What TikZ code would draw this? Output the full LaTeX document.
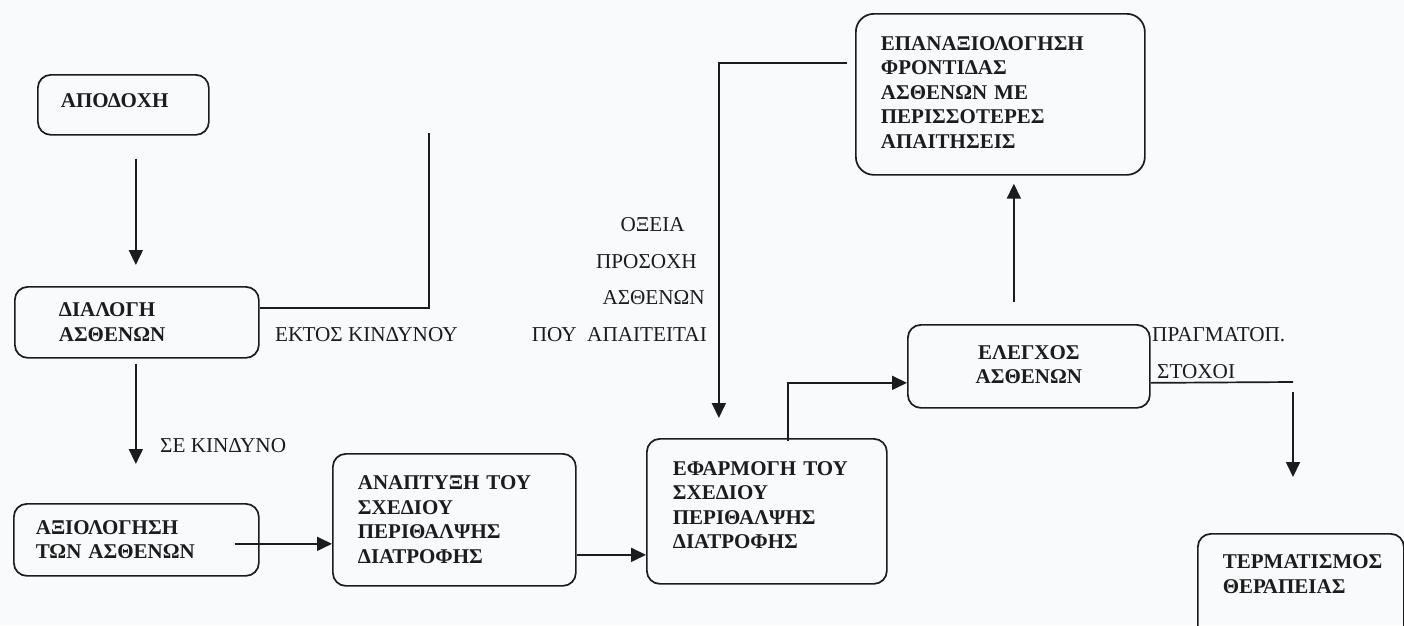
\documentclass[tikz,border=0pt]{standalone}
\usepackage{fontspec}
\setmainfont{Liberation Serif}
\usetikzlibrary{arrows.meta}
\definecolor{bg}{RGB}{248,250,251}
\definecolor{ink}{RGB}{28,28,28}
\begin{document}
\begin{tikzpicture}[x=1pt,y=-1pt,
  box/.style={draw=ink, line width=1.7pt, rounded corners=13pt, anchor=north west, align=left,
    font=\fontsize{21}{24.5}\selectfont\bfseries, text=ink, inner ysep=0pt},
  lbl/.style={font=\fontsize{21.2}{24}\selectfont, text=ink, inner sep=0pt},
  conn/.style={draw=ink, line width=1.7pt},
  arr/.style={conn, -{Triangle[length=15pt,width=14pt]}}]
\fill[bg] (0,0) rectangle (1404,625);
\path[use as bounding box] (0,0) rectangle (1404,625);

% boxes
\node[box, minimum width=171, minimum height=60, text width=125, inner xsep=23, text depth=8pt] (apod) at (37,74) {ΑΠΟΔΟΧΗ};
\node[box, minimum width=244, minimum height=71, text width=156, inner xsep=44] (dial) at (14,286) {ΔΙΑΛΟΓΗ\\ΑΣΘΕΝΩΝ};
\node[box, minimum width=245, minimum height=72, text width=201, inner xsep=22] (axiol) at (13,503) {ΑΞΙΟΛΟΓΗΣΗ\\ΤΩΝ ΑΣΘΕΝΩΝ};
\node[box, minimum width=243, minimum height=132, text width=193, inner xsep=25] (anap) at (332,453) {ΑΝΑΠΤΥΞΗ ΤΟΥ\\ΣΧΕΔΙΟΥ\\ΠΕΡΙΘΑΛΨΗΣ\\ΔΙΑΤΡΟΦΗΣ};
\node[box, minimum width=240, minimum height=145, text width=188, inner xsep=26] (efarm) at (646,438) {ΕΦΑΡΜΟΓΗ ΤΟΥ\\ΣΧΕΔΙΟΥ\\ΠΕΡΙΘΑΛΨΗΣ\\ΔΙΑΤΡΟΦΗΣ\rule[-13pt]{0pt}{1pt}};
\node[box, align=center, minimum width=242, minimum height=83, text width=200, inner xsep=21] (eleg) at (907,324) {ΕΛΕΓΧΟΣ\\ΑΣΘΕΝΩΝ\rule[-4pt]{0pt}{1pt}};
\node[box, rounded corners=18pt, minimum width=289, minimum height=161, text width=239, inner xsep=25] (epan) at (855,13) {ΕΠΑΝΑΞΙΟΛΟΓΗΣΗ\\ΦΡΟΝΤΙΔΑΣ\\ΑΣΘΕΝΩΝ ΜΕ\\ΠΕΡΙΣΣΟΤΕΡΕΣ\\ΑΠΑΙΤΗΣΕΙΣ\rule[-4pt]{0pt}{1pt}};
\node[box, minimum width=206, text width=156, inner xsep=25, inner ysep=21pt] (term) at (1197,533) {ΤΕΡΜΑΤΙΣΜΟΣ\\ΘΕΡΑΠΕΙΑΣ\\\rule{0pt}{60pt}};

% labels
\node[lbl, anchor=west] (ektos) at (275,335) {ΕΚΤΟΣ ΚΙΝΔΥΝΟΥ};
\node[lbl, anchor=west] (sek) at (160,446) {ΣΕ ΚΙΝΔΥΝΟ};
\node[lbl, anchor=east] (l1) at (685,225) {ΟΞΕΙΑ};
\node[lbl, anchor=east] (l2) at (697,262) {ΠΡΟΣΟΧΗ};
\node[lbl, anchor=east] (l3) at (705,298) {ΑΣΘΕΝΩΝ};
\node[lbl, anchor=east] (l4) at (707,335) {ΠΟΥ\ \ ΑΠΑΙΤΕΙΤΑΙ};
\node[lbl, anchor=west] (prag) at (1152,335) {ΠΡΑΓΜΑΤΟΠ.};
\node[lbl, anchor=west] (stoxoi) at (1157,372) {ΣΤΟΧΟΙ};

% free ends
\coordinate (kink1) at (429,308);
\coordinate (top1) at (429,133);
\coordinate (k7) at (1293,382);

% connectors
\draw[arr, shorten <=23pt, shorten >=21pt] ([xshift=12.5pt]apod.south) -- ([xshift=12.5pt]apod.south |- dial.north);
\draw[conn] (dial.east |- kink1) -- (kink1) -- (top1);
\draw[arr, shorten <=5pt, shorten >=39pt] ([xshift=-1pt]dial.south) -- ([xshift=-1pt]dial.south |- axiol.north);
\draw[arr] ([xshift=-25pt,yshift=-4pt]axiol.east) -- ([yshift=-4pt]axiol.east -| anap.west);
\draw[arr] ([yshift=-35pt]anap.east) -- ([yshift=-35pt]anap.east -| efarm.west);
\draw[arr] ([xshift=21pt,yshift=-3pt]efarm.north) |- ([yshift=-16.5pt]eleg.west);
\draw[arr, shorten >=8pt] ([xshift=-15pt,yshift=22pt]eleg.north) -- ([xshift=-15pt]eleg.north |- epan.south);
\draw[conn] ([yshift=-16.5pt]eleg.east) -- (k7);
\draw[arr, shorten <=10pt, shorten >=56pt] (k7) -- (k7 |- term.north);
\draw[arr, shorten <=8pt, shorten >=20pt] ([yshift=31.5pt]epan.west) -| ([xshift=-48pt]efarm.north);
\end{tikzpicture}
\end{document}
